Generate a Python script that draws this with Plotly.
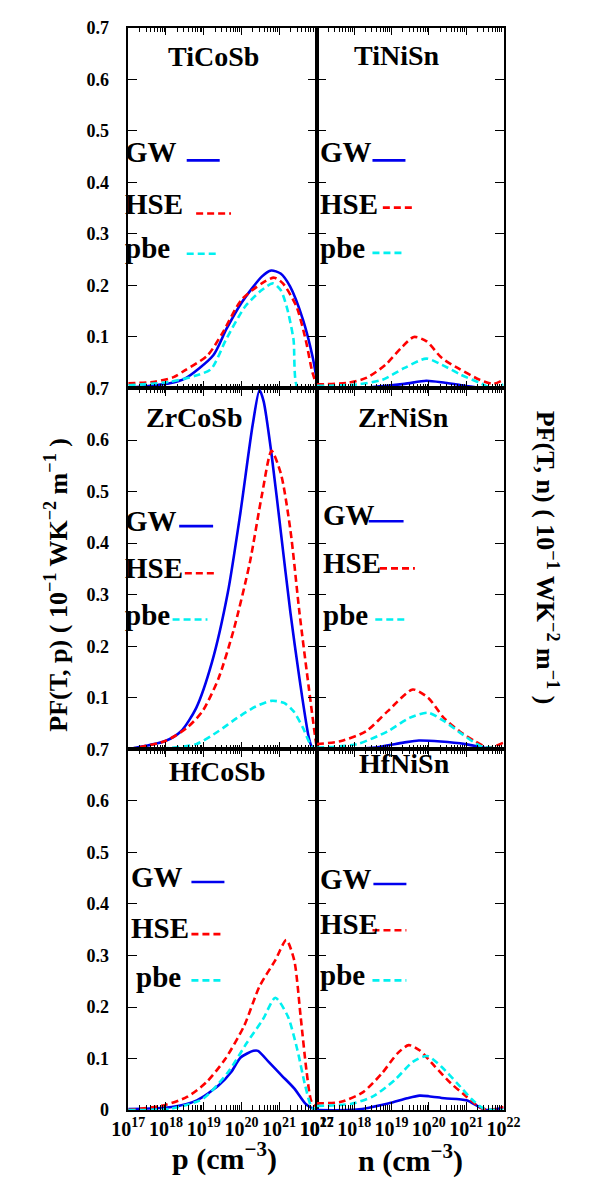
import numpy as np
import plotly.graph_objects as go

W, H = 595, 1184

# ---------------- data: log10(carrier concentration) and PF values ----------------
# TiCoSb (p-type)
ticosb_gw_logx = [17.0, 18.1, 18.5, 19.25, 19.6, 20.0, 20.54, 20.79, 21.04, 21.29, 21.63, 21.88, 22.0]
ticosb_gw_pf = [0.001, 0.01, 0.019, 0.064, 0.115, 0.166, 0.217, 0.229, 0.223, 0.198, 0.134, 0.064, 0.017]
ticosb_hse_logx = [17.0, 17.7, 18.2, 18.5, 19.1, 19.5, 20.0, 20.54, 20.87, 21.1, 21.46, 21.7, 21.88, 22.0]
ticosb_hse_pf = [0.01, 0.013, 0.022, 0.035, 0.064, 0.108, 0.172, 0.204, 0.215, 0.204, 0.159, 0.096, 0.032, 0.006]
ticosb_pbe_logx = [17.0, 18.1, 18.8, 19.2, 19.6, 20.1, 20.54, 20.83, 21.04, 21.2, 21.38, 21.5, 22.0]
ticosb_pbe_pf = [0.006, 0.013, 0.025, 0.038, 0.096, 0.159, 0.191, 0.204, 0.191, 0.159, 0.096, 0.0, 0.0]

# TiNiSn (n-type)
tinisn_gw_logx = [17.0, 18.5, 19.35, 19.93, 20.43, 21.0, 21.5, 22.0]
tinisn_gw_pf = [0.0, 0.003, 0.009, 0.015, 0.011, 0.005, 0.0, 0.0]
tinisn_hse_logx = [17.0, 17.84, 18.34, 18.84, 19.26, 19.6, 19.93, 20.35, 20.77, 21.36, 21.73, 22.0]
tinisn_hse_pf = [0.008, 0.011, 0.021, 0.046, 0.079, 0.1, 0.092, 0.059, 0.04, 0.017, 0.009, 0.017]
tinisn_pbe_logx = [17.0, 18.1, 18.76, 19.35, 19.93, 20.35, 20.85, 21.36, 21.69, 22.0]
tinisn_pbe_pf = [0.005, 0.008, 0.017, 0.04, 0.058, 0.046, 0.027, 0.011, 0.001, 0.008]

# ZrCoSb (p-type)
zrcosb_gw_logx = [17.0, 17.98, 18.4, 18.8, 19.22, 19.64, 19.97, 20.3, 20.48, 20.59, 20.8, 21.05, 21.3, 21.54, 21.79, 21.88, 22.0]
zrcosb_gw_pf = [0.0, 0.016, 0.035, 0.08, 0.169, 0.304, 0.457, 0.63, 0.697, 0.675, 0.572, 0.419, 0.265, 0.137, 0.022, 0.003, 0.0]
zrcosb_hse_logx = [17.0, 17.98, 18.56, 18.97, 19.39, 19.8, 20.22, 20.55, 20.8, 21.05, 21.3, 21.54, 21.79, 21.96, 22.0]
zrcosb_hse_pf = [0.0, 0.016, 0.042, 0.074, 0.137, 0.233, 0.361, 0.496, 0.579, 0.534, 0.425, 0.265, 0.118, 0.022, 0.003]
zrcosb_pbe_logx = [17.0, 18.14, 18.8, 19.39, 19.89, 20.38, 20.8, 21.13, 21.38, 21.63, 21.88, 22.0]
zrcosb_pbe_pf = [0.0, 0.003, 0.01, 0.035, 0.061, 0.083, 0.094, 0.09, 0.074, 0.042, 0.003, 0.0]

# ZrNiSn (n-type)
zrnisn_gw_logx = [17.0, 18.48, 19.32, 19.73, 20.32, 20.98, 21.57, 22.0]
zrnisn_gw_pf = [0.001, 0.003, 0.013, 0.017, 0.015, 0.01, 0.002, 0.001]
zrnisn_hse_logx = [17.0, 17.65, 18.32, 18.9, 19.57, 19.98, 20.4, 20.82, 21.23, 21.6, 22.0]
zrnisn_hse_pf = [0.01, 0.016, 0.035, 0.074, 0.116, 0.1, 0.061, 0.035, 0.016, 0.003, 0.013]
zrnisn_pbe_logx = [17.0, 18.07, 18.9, 19.48, 19.98, 20.4, 20.9, 21.4, 22.0]
zrnisn_pbe_pf = [0.003, 0.01, 0.035, 0.061, 0.071, 0.055, 0.029, 0.006, 0.002]

# HfCoSb (p-type)
hfcosb_gw_logx = [17.0, 18.15, 18.82, 19.4, 19.73, 19.98, 20.32, 20.44, 20.73, 21.07, 21.4, 21.69, 21.82, 22.0]
hfcosb_gw_pf = [0.002, 0.006, 0.019, 0.048, 0.074, 0.102, 0.115, 0.115, 0.093, 0.067, 0.042, 0.013, 0.006, 0.0]
hfcosb_hse_logx = [17.0, 17.98, 18.57, 19.07, 19.57, 20.07, 20.48, 20.9, 21.19, 21.4, 21.57, 21.73, 21.86, 22.0]
hfcosb_hse_pf = [0.0, 0.01, 0.026, 0.054, 0.099, 0.163, 0.24, 0.291, 0.33, 0.291, 0.182, 0.074, 0.016, 0.006]
hfcosb_pbe_logx = [17.0, 18.15, 18.98, 19.65, 20.15, 20.57, 20.9, 21.23, 21.48, 21.69, 21.86, 22.0]
hfcosb_pbe_pf = [0.0, 0.003, 0.022, 0.074, 0.131, 0.176, 0.218, 0.182, 0.118, 0.048, 0.006, 0.0]

# HfNiSn (n-type)
hfnisn_gw_logx = [17.0, 18.07, 18.91, 19.42, 19.75, 20.0, 20.42, 21.01, 21.35, 21.56, 22.0]
hfnisn_gw_pf = [0.0, 0.001, 0.013, 0.023, 0.028, 0.027, 0.023, 0.019, 0.006, 0.0, 0.005]
hfnisn_hse_logx = [17.0, 17.65, 18.24, 18.74, 19.16, 19.46, 19.75, 20.17, 20.59, 21.01, 21.35, 21.6, 22.0]
hfnisn_hse_pf = [0.013, 0.016, 0.035, 0.071, 0.11, 0.126, 0.116, 0.084, 0.052, 0.026, 0.006, 0.0, 0.006]
hfnisn_pbe_logx = [17.0, 17.9, 18.49, 19.08, 19.58, 19.96, 20.34, 20.76, 21.18, 21.47, 22.0]
hfnisn_pbe_pf = [0.008, 0.012, 0.026, 0.058, 0.094, 0.105, 0.084, 0.052, 0.019, 0.003, 0.0]

compounds = ["TiCoSb", "TiNiSn", "ZrCoSb", "ZrNiSn", "HfCoSb", "HfNiSn"]
methods = ["GW", "HSE", "pbe"]
y_ticks_upper = [0.1, 0.2, 0.3, 0.4, 0.5, 0.6, 0.7]
y_ticks_lower = [0.0, 0.1, 0.2, 0.3, 0.4, 0.5, 0.6, 0.7]
y_text_upper = ["0.1", "0.2", "0.3", "0.4", "0.5", "0.6", "0.7"]
y_text_lower = ["0", "0.1", "0.2", "0.3", "0.4", "0.5", "0.6", "0.7"]
x_tick_exponents = [17, 18, 19, 20, 21, 22]

series = {
    "TiCoSb": [(ticosb_gw_logx, ticosb_gw_pf), (ticosb_hse_logx, ticosb_hse_pf), (ticosb_pbe_logx, ticosb_pbe_pf)],
    "TiNiSn": [(tinisn_gw_logx, tinisn_gw_pf), (tinisn_hse_logx, tinisn_hse_pf), (tinisn_pbe_logx, tinisn_pbe_pf)],
    "ZrCoSb": [(zrcosb_gw_logx, zrcosb_gw_pf), (zrcosb_hse_logx, zrcosb_hse_pf), (zrcosb_pbe_logx, zrcosb_pbe_pf)],
    "ZrNiSn": [(zrnisn_gw_logx, zrnisn_gw_pf), (zrnisn_hse_logx, zrnisn_hse_pf), (zrnisn_pbe_logx, zrnisn_pbe_pf)],
    "HfCoSb": [(hfcosb_gw_logx, hfcosb_gw_pf), (hfcosb_hse_logx, hfcosb_hse_pf), (hfcosb_pbe_logx, hfcosb_pbe_pf)],
    "HfNiSn": [(hfnisn_gw_logx, hfnisn_gw_pf), (hfnisn_hse_logx, hfnisn_hse_pf), (hfnisn_pbe_logx, hfnisn_pbe_pf)],
}

# ---------------- styling ----------------
FONT = "Liberation Serif"
colors = {"GW": "#0000ee", "HSE": "#ff0000", "pbe": "#00f0f0"}
dashes = {"GW": "solid", "HSE": "7px,4px", "pbe": "7px,4px"}


def px(xp):
    return xp / W


def py(yp):
    return 1 - yp / H


x_dom = {0: [px(118), px(318)], 1: [px(318), px(516)]}
y_dom = {0: [py(385), py(18)], 1: [py(752), py(385)], 2: [py(1119), py(752)]}

fig = go.Figure()

for i, comp in enumerate(compounds):
    row, col = i // 2, i % 2
    k = i + 1
    xa = "x" if k == 1 else f"x{k}"
    ya = "y" if k == 1 else f"y{k}"
    for m, (lx, pf) in zip(methods, series[comp]):
        fig.add_trace(go.Scatter(
            x=np.power(10.0, lx), y=pf, mode="lines", xaxis=xa, yaxis=ya,
            line=dict(color=colors[m], width=2.6, dash=dashes[m], shape="spline", smoothing=0.7),
            showlegend=False, cliponaxis=False))

    bottom = row == 2
    xkey = "xaxis" if k == 1 else f"xaxis{k}"
    ykey = "yaxis" if k == 1 else f"yaxis{k}"
    xaxis = dict(
        domain=x_dom[col], anchor=ya, type="log", range=[17, 22],
        tickmode="array", tickvals=[10.0 ** e for e in x_tick_exponents],
        ticktext=[f"10<sup>{e}</sup>" for e in x_tick_exponents], tickangle=0,
        showline=True, linecolor="black", linewidth=1.5, mirror="ticks",
        ticks="inside", ticklen=8, tickwidth=1.2, tickcolor="black",
        minor=dict(ticks="inside", ticklen=5, tickwidth=1, tickcolor="black", showgrid=False, dtick="D1"),
        showgrid=False, zeroline=False, showticklabels=bottom,
        tickfont=dict(family=FONT, size=20, color="black", weight="bold"),
    )
    fig.layout[xkey] = xaxis

    lower = row == 2
    fig.layout[ykey] = dict(
        domain=y_dom[row], anchor=xa, range=[0, 0.7],
        tickmode="array",
        tickvals=y_ticks_lower if lower else y_ticks_upper,
        ticktext=y_text_lower if lower else y_text_upper,
        showline=True, linecolor="black", linewidth=1.5, mirror="ticks",
        ticks="inside", ticklen=9, tickwidth=1.2, tickcolor="black",
        showgrid=False, zeroline=False, showticklabels=(col == 0),
        ticklabelstandoff=14,
        tickfont=dict(family=FONT, size=18, color="black", weight="bold"),
    )

# ---------------- annotations (titles, legend labels, axis titles) ----------------
titles_pos = {"TiCoSb": (208, 47), "TiNiSn": (403, 46), "ZrCoSb": (188, 415),
              "ZrNiSn": (410, 415), "HfCoSb": (212, 775), "HfNiSn": (411, 766)}
legend_pos = {
    # (text_left_x, text_y, line_x0, line_x1, line_y) for GW, HSE, pbe
    "TiCoSb": [(112, 144, 180, 215, 153), (112, 197, 190, 227, 207), (112, 242, 180, 215, 248)],
    "TiNiSn": [(319, 144, 377, 412, 153), (319, 197, 388, 423, 201), (319, 242, 377, 412, 247)],
    "ZrCoSb": [(112, 520, 172, 208, 525), (112, 568, 178, 213, 573), (112, 615, 165, 202, 620)],
    "ZrNiSn": [(322, 514, 373, 410, 520), (322, 562, 385, 422, 568), (322, 615, 380, 415, 620)],
    "HfCoSb": [(119, 882, 185, 220, 887), (119, 934, 185, 220, 940), (124, 984, 185, 220, 987)],
    "HfNiSn": [(319, 884, 378, 413, 889), (319, 930, 377, 413, 936), (319, 982, 377, 413, 987)],
}

annotations = []
shapes = []
for comp in compounds:
    tx, ty = titles_pos[comp]
    annotations.append(dict(x=px(tx), y=py(ty), xref="paper", yref="paper", text=f"<b>{comp}</b>",
                            showarrow=False, xanchor="center", yanchor="middle",
                            font=dict(family=FONT, size=28, color="black")))
    for m, (lx, ly, x0, x1, yl) in zip(methods, legend_pos[comp]):
        annotations.append(dict(x=px(lx), y=py(ly), xref="paper", yref="paper", text=f"<b>{m}</b>",
                                showarrow=False, xanchor="left", yanchor="middle",
                                font=dict(family=FONT, size=29, color="black")))
        shapes.append(dict(type="line", xref="paper", yref="paper", x0=px(x0), x1=px(x1),
                           y0=py(yl), y1=py(yl),
                           line=dict(color=colors[m], width=2.6, dash=dashes[m])))

annotations += [
    dict(x=px(220), y=py(1166), xref="paper", yref="paper", text="<b>p (cm<sup>−3</sup>)</b>",
         showarrow=False, xanchor="center", yanchor="middle", font=dict(family=FONT, size=30, color="black")),
    dict(x=px(417), y=py(1168), xref="paper", yref="paper", text="<b>n (cm<sup>−3</sup>)</b>",
         showarrow=False, xanchor="center", yanchor="middle", font=dict(family=FONT, size=30, color="black")),
    dict(x=px(42), y=py(585), xref="paper", yref="paper",
         text="<b>PF(T, p) ( 10<sup>−1</sup> WK<sup>−2</sup> m<sup>−1</sup> )</b>", textangle=-90,
         showarrow=False, xanchor="center", yanchor="middle", font=dict(family=FONT, size=26, color="black")),
    dict(x=px(562), y=py(557), xref="paper", yref="paper",
         text="<b>PF(T, n) ( 10<sup>−1</sup> WK<sup>−2</sup> m<sup>−1</sup> )</b>", textangle=90,
         showarrow=False, xanchor="center", yanchor="middle", font=dict(family=FONT, size=26, color="black")),
]

fig.update_layout(
    width=W, height=H, margin=dict(l=0, r=0, t=0, b=0),
    paper_bgcolor="white", plot_bgcolor="white",
    annotations=annotations, shapes=shapes, showlegend=False,
    font=dict(family=FONT, color="black"),
)

fig.write_html("out.html")
